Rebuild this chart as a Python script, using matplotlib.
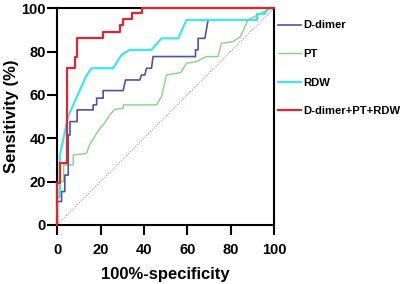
import matplotlib.pyplot as plt

plt.rcParams['font.family'] = ['Liberation Sans', 'DejaVu Sans']
plt.rcParams['font.weight'] = 'bold'

# ROC curves (100%-specificity, sensitivity)
ddimer_x = [0, 0, 2, 2, 3.5, 3.5, 5.1, 5.1, 5.9, 5.9, 9.2, 9.2, 16.6, 16.6, 18.2, 18.2,
            21.2, 21.2, 30.4, 31.5, 38.1, 38.9, 40.4, 41.2, 43.5, 44.2, 63.8, 63.8, 65, 65,
            68.1, 69.6, 92.3, 92.3, 95.7, 97.2, 100]
ddimer_y = [0, 10.8, 10.8, 15.4, 15.4, 23, 23, 41.5, 41.5, 47.7, 47.7, 53.1, 53.1, 55.4, 55.4, 58.5,
            58.5, 62, 62, 66.9, 66.9, 69.2, 69.2, 72.3, 72.3, 77.7, 77.7, 80.8, 80.8, 86.1,
            86.1, 94.6, 94.6, 97.4, 97.4, 100, 100]

pt_x = [0, 0, 1.5, 1.5, 3, 3, 7.4, 7.4, 13.5, 15, 18.2, 20, 21.5, 24.3, 26.5, 30.4, 30.5,
        45.8, 48.1, 50.4, 57, 59.6, 64.2, 68.8, 74.2, 75.7, 81.1, 84.5, 88, 96.5, 98, 100]
pt_y = [0, 15, 15, 20, 20, 27.7, 27.7, 32.3, 33, 37, 42.3, 45, 46.5, 50.8, 53.3, 53.8, 55.4,
        55.4, 59.2, 69.2, 70.3, 74.6, 75.4, 77.7, 77.7, 83.8, 84.6, 86.9, 94.6, 99, 100, 100]

rdw_x = [0, 0, 1.2, 1.2, 5, 13.5, 15.8, 25.8, 29.7, 33.5, 43.5, 48.1, 55.8, 59.6, 92.3, 92.3,
         95.7, 97.2, 100]
rdw_y = [0, 13, 13, 32, 50, 69, 72.3, 72.3, 78.5, 80.8, 80.8, 86.1, 86.1, 94.6, 94.6, 97.4,
         97.4, 100, 100]

combo_x = [0, 0, 1.5, 1.5, 4.3, 4.3, 8.2, 8.2, 9.2, 9.2, 21.2, 21.2, 28.9, 28.9, 30.4, 30.4,
           34.7, 34.7, 39.2, 39.2, 100]
combo_y = [0, 19.4, 19.4, 28.5, 28.5, 72.3, 72.3, 77.7, 77.7, 86.4, 86.4, 88.9, 88.9, 92.3,
           92.3, 94.9, 94.9, 97.6, 97.6, 100, 100]

ticks = [0, 20, 40, 60, 80, 100]

fig = plt.figure(figsize=(4, 2.84), dpi=100)
ax = fig.add_axes([0.143, 0.208, 0.542, 0.763])

ax.plot([0, 100], [0, 100], ':', color='#d46a6a', linewidth=0.7)
ax.plot(pt_x, pt_y, color='#7fd87f', linewidth=1.0, label='PT', clip_on=False)
ax.plot(ddimer_x, ddimer_y, color='#5151a8', linewidth=1.2, label='D-dimer', clip_on=False)
ax.plot(rdw_x, rdw_y, color='#3fe6f2', linewidth=1.6, label='RDW', clip_on=False)
ax.plot(combo_x, combo_y, color='#e0252b', linewidth=1.6, label='D-dimer+PT+RDW',
        clip_on=False, zorder=5)

ax.set_xlim(0, 100)
ax.set_ylim(0, 100)
ax.set_xticks(ticks)
ax.set_yticks(ticks)
ax.tick_params(axis='both', length=7, width=1.5, labelsize=10.5)
ax.tick_params(axis='x', pad=6)
ax.tick_params(axis='y', pad=1)
for s in ax.spines.values():
    s.set_linewidth(1.5)

ax.set_xlabel('100%-specificity', fontsize=12, fontweight='bold', labelpad=7)
ax.set_ylabel('Sensitivity (%)', fontsize=12, fontweight='bold', labelpad=2)

handles, labels = ax.get_legend_handles_labels()
order = [1, 0, 2, 3]
fig.legend([handles[i] for i in order], [labels[i] for i in order],
           loc='upper left', bbox_to_anchor=(0.695, 0.928), frameon=False,
           fontsize=8.1, labelspacing=1.65, handlelength=2.05, handletextpad=0.2,
           borderpad=0, borderaxespad=0)

fig.savefig('out.png', dpi=100)
